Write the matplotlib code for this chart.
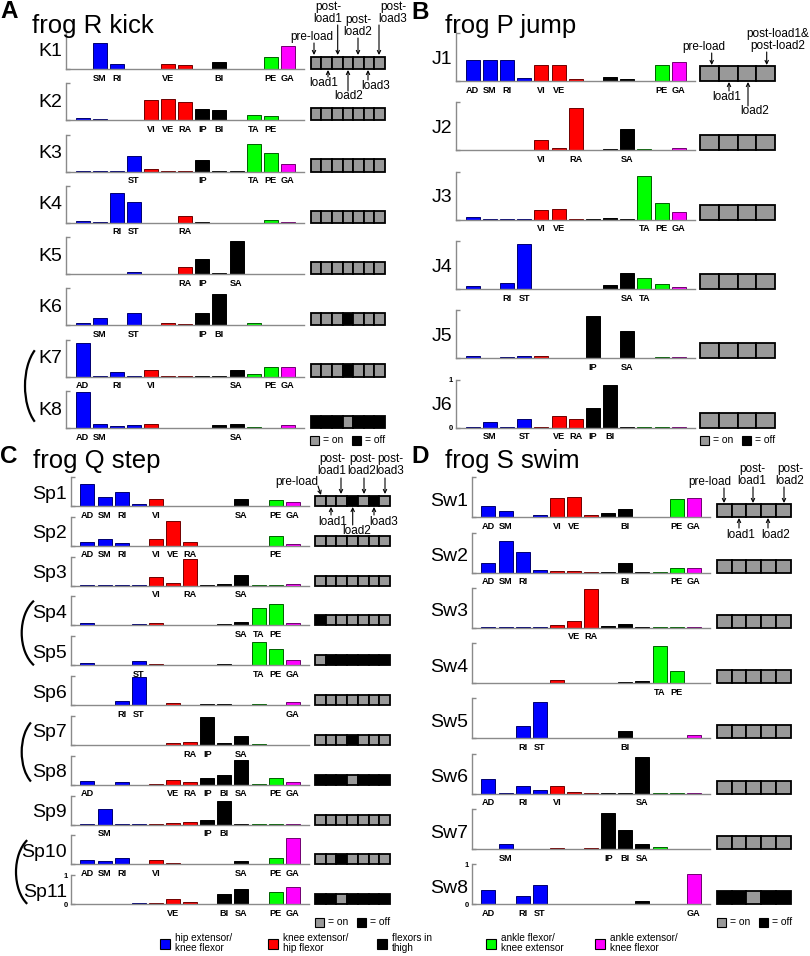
import numpy as np
import matplotlib.pyplot as plt
from matplotlib.patches import Arc, Rectangle

plt.rcParams['font.family'] = ['Liberation Sans', 'DejaVu Sans']

W, H = 810, 956

muscles = ['AD', 'SM', 'RI', 'ST', 'VI', 'VE', 'RA', 'IP', 'BI', 'SA', 'TA', 'PE', 'GA']
groups = [0, 0, 0, 0, 1, 1, 1, 2, 2, 2, 3, 3, 4]
face = ['#0000ff', '#ff0000', '#000000', '#00ff00', '#ff00ff']
edge = ['#000070', '#700000', '#000000', '#006000', '#700070']
group_names = ['hip extensor/\nknee flexor', 'knee extensor/\nhip flexor', 'flexors in\nthigh',
               'ankle flexor/\nknee extensor', 'ankle extensor/\nknee flexor']

# frog R kick
kick_names = ['K1', 'K2', 'K3', 'K4', 'K5', 'K6', 'K7', 'K8']
kick_vals = [
    [0.01, 0.69, 0.135, 0.01, 0.01, 0.145, 0.11, 0.01, 0.18, 0.01, 0.01, 0.315, 0.62],
    [0.07, 0.045, 0.01, 0.01, 0.56, 0.57, 0.49, 0.31, 0.27, 0.01, 0.135, 0.12, 0.01],
    [0.01, 0.01, 0.01, 0.42, 0.07, 0.01, 0.01, 0.30, 0.01, 0.01, 0.74, 0.5, 0.2],
    [0.055, 0.03, 0.80, 0.57, 0.01, 0.01, 0.19, 0.035, 0.01, 0.01, 0.01, 0.065, 0.035],
    [0.01, 0.01, 0.01, 0.065, 0.01, 0.01, 0.2, 0.40, 0.025, 0.9, 0.01, 0.01, 0.01],
    [0.065, 0.2, 0.01, 0.34, 0.01, 0.065, 0.045, 0.35, 0.86, 0.01, 0.07, 0.01, 0.01],
    [0.92, 0.01, 0.135, 0.01, 0.18, 0.01, 0.01, 0.01, 0.01, 0.17, 0.08, 0.26, 0.27],
    [0.97, 0.12, 0.055, 0.09, 0.1, 0.01, 0.01, 0.01, 0.09, 0.12, 0.035, 0.01, 0.07],
]
kick_labels = ['SM RI VE BI PE GA', 'VI VE RA IP BI TA PE', 'ST IP TA PE GA', 'RI ST RA',
               'RA IP SA', 'SM ST IP BI', 'AD RI VI SA PE GA', 'AD SM SA']
kick_states = ['1111111', '1111111', '1111111', '1111111', '1111111', '1110111', '1110111', '0001000']

# frog P jump
jump_names = ['J1', 'J2', 'J3', 'J4', 'J5', 'J6']
jump_vals = [
    [0.44, 0.43, 0.44, 0.055, 0.33, 0.33, 0.035, 0.01, 0.085, 0.035, 0.01, 0.33, 0.40],
    [0.01, 0.01, 0.01, 0.01, 0.21, 0.05, 0.89, 0.01, 0.03, 0.44, 0.035, 0.01, 0.05],
    [0.055, 0.01, 0.015, 0.01, 0.2, 0.22, 0.01, 0.01, 0.03, 0.01, 0.92, 0.35, 0.15],
    [0.055, 0.01, 0.125, 0.93, 0.01, 0.01, 0.01, 0.01, 0.085, 0.33, 0.24, 0.1, 0.05],
    [0.04, 0.01, 0.02, 0.05, 0.05, 0.01, 0.01, 0.89, 0.01, 0.56, 0.01, 0.02, 0.02],
    [0.01, 0.12, 0.01, 0.19, 0.01, 0.24, 0.19, 0.40, 0.88, 0.01, 0.01, 0.01, 0.01],
]
jump_labels = ['AD SM RI VI VE PE GA', 'VI RA SA', 'VI VE TA PE GA', 'RI ST SA TA', 'IP SA',
               'SM ST VE RA IP BI']
jump_states = ['1111'] * 6

# frog Q step
step_names = ['Sp1', 'Sp2', 'Sp3', 'Sp4', 'Sp5', 'Sp6', 'Sp7', 'Sp8', 'Sp9', 'Sp10', 'Sp11']
step_vals = [
    [0.75, 0.30, 0.48, 0.06, 0.23, 0.01, 0.01, 0.01, 0.01, 0.23, 0.01, 0.2, 0.13],
    [0.14, 0.23, 0.10, 0.01, 0.22, 0.84, 0.14, 0.01, 0.01, 0.01, 0.01, 0.33, 0.06],
    [0.01, 0.01, 0.01, 0.01, 0.30, 0.08, 0.92, 0.01, 0.045, 0.36, 0.01, 0.01, 0.045],
    [0.09, 0.01, 0.01, 0.035, 0.08, 0.01, 0.01, 0.01, 0.045, 0.115, 0.61, 0.75, 0.08],
    [0.08, 0.01, 0.01, 0.15, 0.035, 0.01, 0.01, 0.01, 0.03, 0.01, 0.80, 0.56, 0.18],
    [0.01, 0.01, 0.15, 0.97, 0.01, 0.06, 0.01, 0.045, 0.045, 0.01, 0.045, 0.01, 0.115],
    [0.01, 0.01, 0.01, 0.01, 0.01, 0.06, 0.115, 0.95, 0.06, 0.31, 0.045, 0.01, 0.01],
    [0.115, 0.01, 0.09, 0.01, 0.035, 0.17, 0.10, 0.25, 0.34, 0.84, 0.035, 0.22, 0.10],
    [0.01, 0.53, 0.035, 0.035, 0.01, 0.06, 0.08, 0.16, 0.80, 0.02, 0.01, 0.01, 0.01],
    [0.16, 0.13, 0.21, 0.01, 0.16, 0.035, 0.01, 0.01, 0.01, 0.115, 0.01, 0.22, 0.90],
    [0.01, 0.01, 0.02, 0.055, 0.055, 0.18, 0.08, 0.01, 0.34, 0.52, 0.01, 0.44, 0.60],
]
step_labels = ['AD SM RI VI SA PE GA', 'AD SM RI VI VE RA PE', 'VI RA SA', 'SA TA PE', 'ST TA PE GA',
               'RI ST GA', 'RA IP SA', 'AD VE RA IP BI SA PE GA', 'SM IP BI', 'AD SM RI VI SA PE GA',
               'VE BI SA PE GA']
step_states = ['1110101', '1111111', '1111111', '0111111', '1000000', '1111111', '1110111',
               '0001000', '1111111', '1101111', '0010000']

# frog S swim
swim_names = ['Sw1', 'Sw2', 'Sw3', 'Sw4', 'Sw5', 'Sw6', 'Sw7', 'Sw8']
swim_vals = [
    [0.29, 0.15, 0.01, 0.05, 0.475, 0.5, 0.065, 0.115, 0.21, 0.01, 0.01, 0.45, 0.48],
    [0.25, 0.78, 0.52, 0.065, 0.035, 0.05, 0.01, 0.01, 0.25, 0.01, 0.01, 0.11, 0.125],
    [0.01, 0.01, 0.01, 0.01, 0.075, 0.175, 0.97, 0.05, 0.09, 0.01, 0.015, 0.01, 0.01],
    [0.01, 0.01, 0.01, 0.015, 0.085, 0.01, 0.01, 0.01, 0.025, 0.065, 0.94, 0.31, 0.01],
    [0.01, 0.01, 0.32, 0.92, 0.01, 0.01, 0.01, 0.01, 0.19, 0.01, 0.01, 0.01, 0.085],
    [0.36, 0.01, 0.19, 0.10, 0.19, 0.035, 0.01, 0.01, 0.01, 0.91, 0.01, 0.01, 0.025],
    [0.01, 0.13, 0.01, 0.01, 0.015, 0.01, 0.015, 0.90, 0.475, 0.13, 0.05, 0.01, 0.01],
    [0.36, 0.01, 0.21, 0.475, 0.01, 0.01, 0.01, 0.01, 0.01, 0.085, 0.01, 0.01, 0.76],
]
swim_labels = ['AD SM VI VE BI PE GA', 'AD SM RI BI PE GA', 'VE RA', 'TA PE', 'RI ST BI',
               'AD RI VI SA', 'SM IP BI SA', 'AD RI ST GA']
swim_states = ['11111'] * 7 + ['00100']

fig = plt.figure(figsize=(W / 100, H / 100), dpi=100)


def px_axes(x0, y0, w, h):
    return fig.add_axes([x0 / W, 1 - (y0 + h) / H, w / W, h / H])


def draw_panel(names, vals, labels, states, base0, step, ah, left, right,
               bx0, bx1, bh, name_x, name_dy, ticklabels):
    x = np.arange(len(muscles))
    fc = [face[g] for g in groups]
    ec = [edge[g] for g in groups]
    for i, name in enumerate(names):
        base = base0 + i * step
        ax = px_axes(left, base - ah, right - left, ah)
        ax.bar(x, vals[i], width=0.82, color=fc, edgecolor=ec, linewidth=0.7)
        ax.set_xlim(-0.98, 12.95)
        ax.set_ylim(0, 1)
        for s in ['top', 'right']:
            ax.spines[s].set_visible(False)
        for s in ['left', 'bottom']:
            ax.spines[s].set_color('#8a8a8a')
            ax.spines[s].set_linewidth(1.0)
        ax.set_xticks([])
        ax.set_yticks([0, 1])
        last = ticklabels and i == len(names) - 1
        ax.set_yticklabels(['0', '1'], fontweight='bold', fontsize=5.5)
        ax.tick_params(axis='y', direction='in', length=3, width=1, color='#8a8a8a',
                       labelleft=last, pad=2)
        ax.patch.set_alpha(0)
        for m in labels[i].split():
            ax.annotate(m, xy=(muscles.index(m), 0), xycoords=('data', 'axes fraction'),
                        xytext=(0, -3.3), textcoords='offset points', ha='center', va='top',
                        fontsize=6.6, fontweight='bold')
        fig.text(name_x / W, 1 - (base + name_dy) / H, name, ha='right', va='center', fontsize=14)

        n = len(states[i])
        sax = px_axes(bx0, base - bh, bx1 - bx0, bh)
        cols = ['#999999' if c == '1' else 'k' for c in states[i]]
        sax.bar(np.arange(n), np.ones(n), width=1, align='edge', color=cols,
                edgecolor='k', linewidth=1.3, clip_on=False)
        sax.set_xlim(0, n)
        sax.set_ylim(0, 1)
        sax.axis('off')


draw_panel(kick_names, kick_vals, kick_labels, kick_states, 69, 51.29, 37, 66, 304,
           310.7, 385, 12.3, 62, -18, False)
draw_panel(jump_names, jump_vals, jump_labels, jump_states, 81, 69.34, 48, 456, 695,
           700, 775, 15, 452, -22, True)
draw_panel(step_names, step_vals, step_labels, step_states, 506, 39.83, 29, 70.7, 309,
           315, 390, 10, 67, -12, True)
draw_panel(swim_names, swim_vals, swim_labels, swim_states, 517.3, 55.29, 40, 471.7, 710,
           716.7, 790.7, 13, 468, -16, True)

# overlay in pixel coordinates for titles, notes, brackets and keys
ov = fig.add_axes([0, 0, 1, 1])
ov.set_xlim(0, W)
ov.set_ylim(H, 0)
ov.axis('off')
ov.patch.set_alpha(0)

titles = [('A', 0, 0, 'frog R kick', 32, 33), ('B', 411, 1, 'frog P jump', 445, 33),
          ('C', 0, 445, 'frog Q step', 33, 468), ('D', 411, 445, 'frog S swim', 445, 468)]
for letter, lx, ly, title, tx, ty in titles:
    ov.text(lx, ly, letter, fontsize=17.5, fontweight='bold', ha='left', va='top')
    ov.text(tx, ty, title, fontsize=18.5, ha='left', va='baseline')


def note(text, tx, ty, x0, y0, x1, y1):
    ov.text(tx, ty, text, fontsize=8.5, ha='center', va='center', linespacing=0.95)
    ov.annotate('', xy=(x1, y1), xytext=(x0, y0),
                arrowprops=dict(arrowstyle='->', lw=0.8, color='k', mutation_scale=6,
                                shrinkA=0, shrinkB=0))


# panel A notes
note('post-\nload1', 328, 13, 337.7, 25, 337.7, 55)
note('post-\nload2', 358, 26, 358, 38, 358, 55)
note('post-\nload3', 393, 13, 379, 25, 379, 55)
note('pre-load', 312, 37, 314, 43, 314, 55)
note('load1', 324, 83, 328, 77, 328, 70)
note('load2', 349, 96, 348, 91, 348, 70)
note('load3', 376, 86, 368, 80, 368, 70)
# panel B notes
note('pre-load', 704, 47, 711.7, 53, 711.7, 65)
note('post-load1&\npost-load2', 778, 40, 766.7, 52, 766.7, 65)
note('load1', 727, 97, 729, 91, 729, 82)
note('load2', 755, 111, 748, 106, 748, 82)
# panel C notes
note('post-\nload1', 332, 465, 341, 478, 341, 494)
note('post-\nload2', 362, 465, 364, 478, 364, 494)
note('post-\nload3', 390, 465, 385, 478, 385, 494)
note('pre-load', 297, 482, 318, 486, 321, 495)
note('load1', 333, 522, 331, 515, 331, 507)
note('load2', 357, 531, 352.7, 525, 352.7, 507)
note('load3', 384, 522, 374, 515, 374, 507)
# panel D notes
note('pre-load', 710, 482, 724, 488, 724, 503)
note('post-\nload1', 752, 475, 753, 487, 753, 503)
note('post-\nload2', 790, 475, 784, 487, 784, 503)
note('load1', 741, 535, 739, 528, 739, 518)
note('load2', 776, 535, 768, 528, 768, 518)

# brackets joining paired rows
for cx, cy, bw, bhh in [(47.8, 386, 45.6, 87), (45.7, 633, 48, 74),
                        (41.7, 752, 40, 70), (38.8, 872, 45.6, 74)]:
    ov.add_patch(Arc((cx, cy), bw, bhh, theta1=110, theta2=250, lw=1.6, color='k'))

# on / off keys
for sx, sy in [(310, 440), (700, 440), (315, 922), (717, 922)]:
    ov.add_patch(Rectangle((sx, sy - 4.5), 9, 9, facecolor='#999999', edgecolor='k', lw=0.8))
    ov.text(sx + 13, sy, '= on', fontsize=7.5, va='center')
    ov.add_patch(Rectangle((sx + 42, sy - 4.5), 9, 9, facecolor='k', edgecolor='k', lw=0.8))
    ov.text(sx + 55, sy, '= off', fontsize=7.5, va='center')

# muscle group legend
for k, gx in enumerate([160, 268, 377, 486, 595]):
    ov.add_patch(Rectangle((gx, 939), 10, 10, facecolor=face[k], edgecolor='k', lw=0.8))
    ov.text(gx + 15, 943, group_names[k], fontsize=7.2, va='center', linespacing=1.05)

fig.savefig('out.png', dpi=100)
